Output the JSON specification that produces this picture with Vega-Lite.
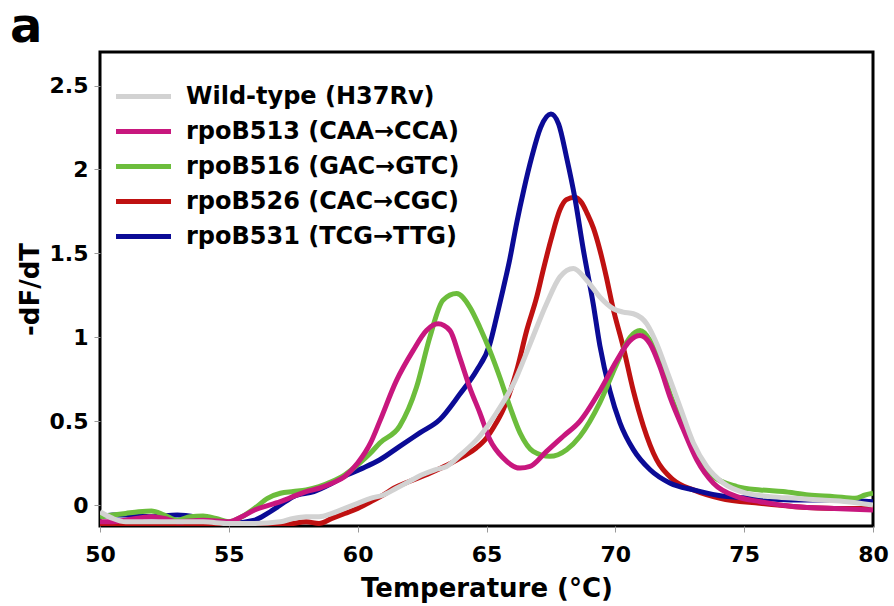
{
  "$schema": "https://vega.github.io/schema/vega-lite/v6.json",
  "width": 773,
  "height": 474,
  "autosize": {"type": "none"},
  "padding": {"left": 100, "top": 52, "right": 21, "bottom": 80},
  "background": "white",
  "title": {"text": "a", "anchor": "start", "frame": "group", "fontSize": 48, "fontWeight": "bold", "font": "DejaVu Sans", "dx": -90, "dy": 38, "offset": 0, "baseline": "alphabetic", "color": "black"},
  "config": {"view": {"stroke": "black", "strokeWidth": 3}, "font": "DejaVu Sans"},
  "datasets": {
    "curves": [
      {"s": "rpoB526 (CAC→CGC)", "t": 50, "v": -0.12}, {"s": "rpoB526 (CAC→CGC)", "t": 51, "v": -0.12}, {"s": "rpoB526 (CAC→CGC)", "t": 52, "v": -0.11}, {"s": "rpoB526 (CAC→CGC)", "t": 53, "v": -0.12}, {"s": "rpoB526 (CAC→CGC)", "t": 54, "v": -0.12}, {"s": "rpoB526 (CAC→CGC)", "t": 55, "v": -0.12}, {"s": "rpoB526 (CAC→CGC)", "t": 56, "v": -0.12}, {"s": "rpoB526 (CAC→CGC)", "t": 57, "v": -0.12}, {"s": "rpoB526 (CAC→CGC)", "t": 57.5, "v": -0.11}, {"s": "rpoB526 (CAC→CGC)", "t": 58, "v": -0.1}, {"s": "rpoB526 (CAC→CGC)", "t": 58.5, "v": -0.11}, {"s": "rpoB526 (CAC→CGC)", "t": 59, "v": -0.08}, {"s": "rpoB526 (CAC→CGC)", "t": 59.5, "v": -0.05}, {"s": "rpoB526 (CAC→CGC)", "t": 60, "v": -0.02}, {"s": "rpoB526 (CAC→CGC)", "t": 60.5, "v": 0.02}, {"s": "rpoB526 (CAC→CGC)", "t": 61, "v": 0.06}, {"s": "rpoB526 (CAC→CGC)", "t": 61.4, "v": 0.1}, {"s": "rpoB526 (CAC→CGC)", "t": 62, "v": 0.14}, {"s": "rpoB526 (CAC→CGC)", "t": 62.8, "v": 0.19}, {"s": "rpoB526 (CAC→CGC)", "t": 63.5, "v": 0.24}, {"s": "rpoB526 (CAC→CGC)", "t": 64.1, "v": 0.29}, {"s": "rpoB526 (CAC→CGC)", "t": 64.6, "v": 0.34}, {"s": "rpoB526 (CAC→CGC)", "t": 65, "v": 0.4}, {"s": "rpoB526 (CAC→CGC)", "t": 65.3, "v": 0.47}, {"s": "rpoB526 (CAC→CGC)", "t": 65.65, "v": 0.57}, {"s": "rpoB526 (CAC→CGC)", "t": 66.17, "v": 0.8}, {"s": "rpoB526 (CAC→CGC)", "t": 66.56, "v": 1.04}, {"s": "rpoB526 (CAC→CGC)", "t": 66.95, "v": 1.24}, {"s": "rpoB526 (CAC→CGC)", "t": 67.2, "v": 1.4}, {"s": "rpoB526 (CAC→CGC)", "t": 67.5, "v": 1.58}, {"s": "rpoB526 (CAC→CGC)", "t": 67.85, "v": 1.76}, {"s": "rpoB526 (CAC→CGC)", "t": 68.1, "v": 1.82}, {"s": "rpoB526 (CAC→CGC)", "t": 68.43, "v": 1.835}, {"s": "rpoB526 (CAC→CGC)", "t": 68.7, "v": 1.8}, {"s": "rpoB526 (CAC→CGC)", "t": 68.9, "v": 1.74}, {"s": "rpoB526 (CAC→CGC)", "t": 69.15, "v": 1.65}, {"s": "rpoB526 (CAC→CGC)", "t": 69.4, "v": 1.52}, {"s": "rpoB526 (CAC→CGC)", "t": 69.65, "v": 1.36}, {"s": "rpoB526 (CAC→CGC)", "t": 69.9, "v": 1.18}, {"s": "rpoB526 (CAC→CGC)", "t": 70.31, "v": 0.94}, {"s": "rpoB526 (CAC→CGC)", "t": 70.7, "v": 0.68}, {"s": "rpoB526 (CAC→CGC)", "t": 71.09, "v": 0.47}, {"s": "rpoB526 (CAC→CGC)", "t": 71.6, "v": 0.27}, {"s": "rpoB526 (CAC→CGC)", "t": 72.25, "v": 0.15}, {"s": "rpoB526 (CAC→CGC)", "t": 73.03, "v": 0.09}, {"s": "rpoB526 (CAC→CGC)", "t": 74.07, "v": 0.04}, {"s": "rpoB526 (CAC→CGC)", "t": 75.6, "v": 0.01}, {"s": "rpoB526 (CAC→CGC)", "t": 77, "v": -0.01}, {"s": "rpoB526 (CAC→CGC)", "t": 78.5, "v": -0.02}, {"s": "rpoB526 (CAC→CGC)", "t": 80, "v": -0.02},

      {"s": "rpoB531 (TCG→TTG)", "t": 50, "v": -0.07}, {"s": "rpoB531 (TCG→TTG)", "t": 50.5, "v": -0.06}, {"s": "rpoB531 (TCG→TTG)", "t": 51, "v": -0.06}, {"s": "rpoB531 (TCG→TTG)", "t": 52, "v": -0.07}, {"s": "rpoB531 (TCG→TTG)", "t": 53, "v": -0.06}, {"s": "rpoB531 (TCG→TTG)", "t": 54, "v": -0.08}, {"s": "rpoB531 (TCG→TTG)", "t": 55, "v": -0.11}, {"s": "rpoB531 (TCG→TTG)", "t": 56, "v": -0.09}, {"s": "rpoB531 (TCG→TTG)", "t": 56.5, "v": -0.05}, {"s": "rpoB531 (TCG→TTG)", "t": 57, "v": 0.0}, {"s": "rpoB531 (TCG→TTG)", "t": 57.5, "v": 0.05}, {"s": "rpoB531 (TCG→TTG)", "t": 58.3, "v": 0.08}, {"s": "rpoB531 (TCG→TTG)", "t": 59, "v": 0.13}, {"s": "rpoB531 (TCG→TTG)", "t": 59.6, "v": 0.18}, {"s": "rpoB531 (TCG→TTG)", "t": 60.2, "v": 0.22}, {"s": "rpoB531 (TCG→TTG)", "t": 60.86, "v": 0.27}, {"s": "rpoB531 (TCG→TTG)", "t": 61.63, "v": 0.35}, {"s": "rpoB531 (TCG→TTG)", "t": 62.41, "v": 0.43}, {"s": "rpoB531 (TCG→TTG)", "t": 63.19, "v": 0.51}, {"s": "rpoB531 (TCG→TTG)", "t": 63.96, "v": 0.66}, {"s": "rpoB531 (TCG→TTG)", "t": 64.61, "v": 0.8}, {"s": "rpoB531 (TCG→TTG)", "t": 65.13, "v": 0.96}, {"s": "rpoB531 (TCG→TTG)", "t": 65.39, "v": 1.12}, {"s": "rpoB531 (TCG→TTG)", "t": 65.65, "v": 1.29}, {"s": "rpoB531 (TCG→TTG)", "t": 65.91, "v": 1.47}, {"s": "rpoB531 (TCG→TTG)", "t": 66.17, "v": 1.68}, {"s": "rpoB531 (TCG→TTG)", "t": 66.45, "v": 1.88}, {"s": "rpoB531 (TCG→TTG)", "t": 66.75, "v": 2.07}, {"s": "rpoB531 (TCG→TTG)", "t": 67.1, "v": 2.25}, {"s": "rpoB531 (TCG→TTG)", "t": 67.5, "v": 2.33}, {"s": "rpoB531 (TCG→TTG)", "t": 67.8, "v": 2.27}, {"s": "rpoB531 (TCG→TTG)", "t": 68.11, "v": 2.07}, {"s": "rpoB531 (TCG→TTG)", "t": 68.43, "v": 1.83}, {"s": "rpoB531 (TCG→TTG)", "t": 68.76, "v": 1.52}, {"s": "rpoB531 (TCG→TTG)", "t": 69.14, "v": 1.2}, {"s": "rpoB531 (TCG→TTG)", "t": 69.4, "v": 0.95}, {"s": "rpoB531 (TCG→TTG)", "t": 69.79, "v": 0.68}, {"s": "rpoB531 (TCG→TTG)", "t": 70.18, "v": 0.49}, {"s": "rpoB531 (TCG→TTG)", "t": 70.7, "v": 0.33}, {"s": "rpoB531 (TCG→TTG)", "t": 71.35, "v": 0.21}, {"s": "rpoB531 (TCG→TTG)", "t": 72.13, "v": 0.13}, {"s": "rpoB531 (TCG→TTG)", "t": 73.03, "v": 0.09}, {"s": "rpoB531 (TCG→TTG)", "t": 74.33, "v": 0.05}, {"s": "rpoB531 (TCG→TTG)", "t": 75.6, "v": 0.04}, {"s": "rpoB531 (TCG→TTG)", "t": 77, "v": 0.03}, {"s": "rpoB531 (TCG→TTG)", "t": 78.5, "v": 0.03}, {"s": "rpoB531 (TCG→TTG)", "t": 80, "v": 0.02},

      {"s": "rpoB516 (GAC→GTC)", "t": 50, "v": -0.07}, {"s": "rpoB516 (GAC→GTC)", "t": 50.5, "v": -0.06}, {"s": "rpoB516 (GAC→GTC)", "t": 51, "v": -0.05}, {"s": "rpoB516 (GAC→GTC)", "t": 51.5, "v": -0.04}, {"s": "rpoB516 (GAC→GTC)", "t": 52, "v": -0.035}, {"s": "rpoB516 (GAC→GTC)", "t": 52.5, "v": -0.06}, {"s": "rpoB516 (GAC→GTC)", "t": 53, "v": -0.09}, {"s": "rpoB516 (GAC→GTC)", "t": 53.5, "v": -0.07}, {"s": "rpoB516 (GAC→GTC)", "t": 54, "v": -0.065}, {"s": "rpoB516 (GAC→GTC)", "t": 54.5, "v": -0.08}, {"s": "rpoB516 (GAC→GTC)", "t": 55, "v": -0.1}, {"s": "rpoB516 (GAC→GTC)", "t": 55.5, "v": -0.07}, {"s": "rpoB516 (GAC→GTC)", "t": 56, "v": -0.02}, {"s": "rpoB516 (GAC→GTC)", "t": 56.5, "v": 0.04}, {"s": "rpoB516 (GAC→GTC)", "t": 57, "v": 0.07}, {"s": "rpoB516 (GAC→GTC)", "t": 57.5, "v": 0.08}, {"s": "rpoB516 (GAC→GTC)", "t": 58, "v": 0.09}, {"s": "rpoB516 (GAC→GTC)", "t": 58.5, "v": 0.11}, {"s": "rpoB516 (GAC→GTC)", "t": 59, "v": 0.14}, {"s": "rpoB516 (GAC→GTC)", "t": 59.5, "v": 0.18}, {"s": "rpoB516 (GAC→GTC)", "t": 60, "v": 0.24}, {"s": "rpoB516 (GAC→GTC)", "t": 60.5, "v": 0.31}, {"s": "rpoB516 (GAC→GTC)", "t": 60.86, "v": 0.37}, {"s": "rpoB516 (GAC→GTC)", "t": 61.63, "v": 0.47}, {"s": "rpoB516 (GAC→GTC)", "t": 62.28, "v": 0.7}, {"s": "rpoB516 (GAC→GTC)", "t": 62.8, "v": 1.0}, {"s": "rpoB516 (GAC→GTC)", "t": 63.31, "v": 1.22}, {"s": "rpoB516 (GAC→GTC)", "t": 63.84, "v": 1.26}, {"s": "rpoB516 (GAC→GTC)", "t": 64.35, "v": 1.18}, {"s": "rpoB516 (GAC→GTC)", "t": 64.74, "v": 1.06}, {"s": "rpoB516 (GAC→GTC)", "t": 65.13, "v": 0.92}, {"s": "rpoB516 (GAC→GTC)", "t": 65.52, "v": 0.76}, {"s": "rpoB516 (GAC→GTC)", "t": 65.91, "v": 0.585}, {"s": "rpoB516 (GAC→GTC)", "t": 66.3, "v": 0.43}, {"s": "rpoB516 (GAC→GTC)", "t": 66.81, "v": 0.32}, {"s": "rpoB516 (GAC→GTC)", "t": 67.46, "v": 0.29}, {"s": "rpoB516 (GAC→GTC)", "t": 68.11, "v": 0.33}, {"s": "rpoB516 (GAC→GTC)", "t": 68.63, "v": 0.41}, {"s": "rpoB516 (GAC→GTC)", "t": 69.4, "v": 0.61}, {"s": "rpoB516 (GAC→GTC)", "t": 70.05, "v": 0.84}, {"s": "rpoB516 (GAC→GTC)", "t": 70.57, "v": 1.0}, {"s": "rpoB516 (GAC→GTC)", "t": 70.96, "v": 1.04}, {"s": "rpoB516 (GAC→GTC)", "t": 71.35, "v": 0.98}, {"s": "rpoB516 (GAC→GTC)", "t": 71.74, "v": 0.84}, {"s": "rpoB516 (GAC→GTC)", "t": 72.13, "v": 0.66}, {"s": "rpoB516 (GAC→GTC)", "t": 72.64, "v": 0.47}, {"s": "rpoB516 (GAC→GTC)", "t": 73.16, "v": 0.29}, {"s": "rpoB516 (GAC→GTC)", "t": 73.81, "v": 0.17}, {"s": "rpoB516 (GAC→GTC)", "t": 74.72, "v": 0.11}, {"s": "rpoB516 (GAC→GTC)", "t": 75.62, "v": 0.09}, {"s": "rpoB516 (GAC→GTC)", "t": 76.5, "v": 0.08}, {"s": "rpoB516 (GAC→GTC)", "t": 77.5, "v": 0.06}, {"s": "rpoB516 (GAC→GTC)", "t": 78.5, "v": 0.05}, {"s": "rpoB516 (GAC→GTC)", "t": 79.3, "v": 0.04}, {"s": "rpoB516 (GAC→GTC)", "t": 79.7, "v": 0.06}, {"s": "rpoB516 (GAC→GTC)", "t": 80, "v": 0.07},

      {"s": "rpoB513 (CAA→CCA)", "t": 50, "v": -0.1}, {"s": "rpoB513 (CAA→CCA)", "t": 50.5, "v": -0.1}, {"s": "rpoB513 (CAA→CCA)", "t": 51, "v": -0.09}, {"s": "rpoB513 (CAA→CCA)", "t": 52, "v": -0.07}, {"s": "rpoB513 (CAA→CCA)", "t": 52.5, "v": -0.08}, {"s": "rpoB513 (CAA→CCA)", "t": 53, "v": -0.1}, {"s": "rpoB513 (CAA→CCA)", "t": 54, "v": -0.09}, {"s": "rpoB513 (CAA→CCA)", "t": 55, "v": -0.1}, {"s": "rpoB513 (CAA→CCA)", "t": 55.5, "v": -0.07}, {"s": "rpoB513 (CAA→CCA)", "t": 56, "v": -0.03}, {"s": "rpoB513 (CAA→CCA)", "t": 57, "v": 0.02}, {"s": "rpoB513 (CAA→CCA)", "t": 58, "v": 0.08}, {"s": "rpoB513 (CAA→CCA)", "t": 58.5, "v": 0.1}, {"s": "rpoB513 (CAA→CCA)", "t": 59, "v": 0.13}, {"s": "rpoB513 (CAA→CCA)", "t": 59.5, "v": 0.17}, {"s": "rpoB513 (CAA→CCA)", "t": 60, "v": 0.25}, {"s": "rpoB513 (CAA→CCA)", "t": 60.5, "v": 0.37}, {"s": "rpoB513 (CAA→CCA)", "t": 60.86, "v": 0.5}, {"s": "rpoB513 (CAA→CCA)", "t": 61.5, "v": 0.74}, {"s": "rpoB513 (CAA→CCA)", "t": 62.15, "v": 0.92}, {"s": "rpoB513 (CAA→CCA)", "t": 62.67, "v": 1.04}, {"s": "rpoB513 (CAA→CCA)", "t": 63.12, "v": 1.08}, {"s": "rpoB513 (CAA→CCA)", "t": 63.58, "v": 1.04}, {"s": "rpoB513 (CAA→CCA)", "t": 63.96, "v": 0.88}, {"s": "rpoB513 (CAA→CCA)", "t": 64.35, "v": 0.7}, {"s": "rpoB513 (CAA→CCA)", "t": 64.74, "v": 0.55}, {"s": "rpoB513 (CAA→CCA)", "t": 65.13, "v": 0.39}, {"s": "rpoB513 (CAA→CCA)", "t": 65.65, "v": 0.28}, {"s": "rpoB513 (CAA→CCA)", "t": 66.3, "v": 0.22}, {"s": "rpoB513 (CAA→CCA)", "t": 66.69, "v": 0.23}, {"s": "rpoB513 (CAA→CCA)", "t": 67.33, "v": 0.32}, {"s": "rpoB513 (CAA→CCA)", "t": 67.98, "v": 0.41}, {"s": "rpoB513 (CAA→CCA)", "t": 68.63, "v": 0.5}, {"s": "rpoB513 (CAA→CCA)", "t": 69.4, "v": 0.68}, {"s": "rpoB513 (CAA→CCA)", "t": 70.05, "v": 0.86}, {"s": "rpoB513 (CAA→CCA)", "t": 70.57, "v": 0.98}, {"s": "rpoB513 (CAA→CCA)", "t": 70.96, "v": 1.01}, {"s": "rpoB513 (CAA→CCA)", "t": 71.35, "v": 0.96}, {"s": "rpoB513 (CAA→CCA)", "t": 71.74, "v": 0.82}, {"s": "rpoB513 (CAA→CCA)", "t": 72.13, "v": 0.64}, {"s": "rpoB513 (CAA→CCA)", "t": 72.64, "v": 0.45}, {"s": "rpoB513 (CAA→CCA)", "t": 73.16, "v": 0.27}, {"s": "rpoB513 (CAA→CCA)", "t": 73.81, "v": 0.13}, {"s": "rpoB513 (CAA→CCA)", "t": 74.72, "v": 0.05}, {"s": "rpoB513 (CAA→CCA)", "t": 75.62, "v": 0.02}, {"s": "rpoB513 (CAA→CCA)", "t": 77, "v": -0.01}, {"s": "rpoB513 (CAA→CCA)", "t": 78.5, "v": -0.02}, {"s": "rpoB513 (CAA→CCA)", "t": 80, "v": -0.03},

      {"s": "Wild-type (H37Rv)", "t": 50, "v": -0.04}, {"s": "Wild-type (H37Rv)", "t": 50.5, "v": -0.08}, {"s": "Wild-type (H37Rv)", "t": 51, "v": -0.1}, {"s": "Wild-type (H37Rv)", "t": 52, "v": -0.1}, {"s": "Wild-type (H37Rv)", "t": 53, "v": -0.1}, {"s": "Wild-type (H37Rv)", "t": 54, "v": -0.1}, {"s": "Wild-type (H37Rv)", "t": 55, "v": -0.11}, {"s": "Wild-type (H37Rv)", "t": 56, "v": -0.11}, {"s": "Wild-type (H37Rv)", "t": 57, "v": -0.1}, {"s": "Wild-type (H37Rv)", "t": 57.5, "v": -0.08}, {"s": "Wild-type (H37Rv)", "t": 58, "v": -0.07}, {"s": "Wild-type (H37Rv)", "t": 58.5, "v": -0.07}, {"s": "Wild-type (H37Rv)", "t": 59, "v": -0.05}, {"s": "Wild-type (H37Rv)", "t": 59.5, "v": -0.02}, {"s": "Wild-type (H37Rv)", "t": 60, "v": 0.01}, {"s": "Wild-type (H37Rv)", "t": 60.5, "v": 0.04}, {"s": "Wild-type (H37Rv)", "t": 61, "v": 0.06}, {"s": "Wild-type (H37Rv)", "t": 61.5, "v": 0.1}, {"s": "Wild-type (H37Rv)", "t": 62, "v": 0.14}, {"s": "Wild-type (H37Rv)", "t": 62.5, "v": 0.18}, {"s": "Wild-type (H37Rv)", "t": 63, "v": 0.21}, {"s": "Wild-type (H37Rv)", "t": 63.45, "v": 0.23}, {"s": "Wild-type (H37Rv)", "t": 64, "v": 0.3}, {"s": "Wild-type (H37Rv)", "t": 64.74, "v": 0.41}, {"s": "Wild-type (H37Rv)", "t": 65.39, "v": 0.55}, {"s": "Wild-type (H37Rv)", "t": 66.04, "v": 0.72}, {"s": "Wild-type (H37Rv)", "t": 66.69, "v": 0.96}, {"s": "Wild-type (H37Rv)", "t": 67.33, "v": 1.2}, {"s": "Wild-type (H37Rv)", "t": 67.85, "v": 1.36}, {"s": "Wild-type (H37Rv)", "t": 68.37, "v": 1.41}, {"s": "Wild-type (H37Rv)", "t": 68.89, "v": 1.34}, {"s": "Wild-type (H37Rv)", "t": 69.4, "v": 1.24}, {"s": "Wild-type (H37Rv)", "t": 69.92, "v": 1.17}, {"s": "Wild-type (H37Rv)", "t": 70.3, "v": 1.15}, {"s": "Wild-type (H37Rv)", "t": 70.7, "v": 1.14}, {"s": "Wild-type (H37Rv)", "t": 71.22, "v": 1.08}, {"s": "Wild-type (H37Rv)", "t": 71.61, "v": 0.96}, {"s": "Wild-type (H37Rv)", "t": 72.0, "v": 0.8}, {"s": "Wild-type (H37Rv)", "t": 72.51, "v": 0.585}, {"s": "Wild-type (H37Rv)", "t": 73.03, "v": 0.37}, {"s": "Wild-type (H37Rv)", "t": 73.55, "v": 0.23}, {"s": "Wild-type (H37Rv)", "t": 74.2, "v": 0.13}, {"s": "Wild-type (H37Rv)", "t": 75.1, "v": 0.07}, {"s": "Wild-type (H37Rv)", "t": 76, "v": 0.05}, {"s": "Wild-type (H37Rv)", "t": 77, "v": 0.04}, {"s": "Wild-type (H37Rv)", "t": 78, "v": 0.03}, {"s": "Wild-type (H37Rv)", "t": 79, "v": 0.02}, {"s": "Wild-type (H37Rv)", "t": 80, "v": 0.0}
    ]
  },
  "data": {"name": "curves"},
  "mark": {"type": "line", "strokeWidth": 5, "interpolate": "monotone", "clip": true},
  "encoding": {
    "x": {
      "field": "t", "type": "quantitative",
      "scale": {"domain": [50, 80], "nice": false, "zero": false},
      "axis": {"title": "Temperature (°C)", "values": [50, 55, 60, 65, 70, 75, 80], "grid": false, "domain": false, "tickSize": 6, "tickColor": "#999999", "labelFontSize": 22, "labelFontWeight": "bold", "labelColor": "black", "labelPadding": 12, "labelFlush": false, "labelFont": "DejaVu Sans", "titleFont": "DejaVu Sans", "titleFontSize": 26, "titleFontWeight": "bold", "titleColor": "black", "titlePadding": 10}
    },
    "y": {
      "field": "v", "type": "quantitative",
      "scale": {"domain": [-0.125, 2.7], "nice": false, "zero": false},
      "axis": {"title": "-dF/dT", "values": [0, 0.5, 1, 1.5, 2, 2.5], "format": "~g", "grid": false, "domain": false, "tickSize": 6, "tickColor": "#999999", "labelFontSize": 22, "labelFontWeight": "bold", "labelColor": "black", "labelPadding": 6, "labelFlush": false, "labelFont": "DejaVu Sans", "titleFont": "DejaVu Sans", "titleFontSize": 26, "titleFontWeight": "bold", "titleColor": "black", "titlePadding": 6}
    },
    "color": {
      "field": "s", "type": "nominal",
      "scale": {
        "domain": ["Wild-type (H37Rv)", "rpoB513 (CAA→CCA)", "rpoB516 (GAC→GTC)", "rpoB526 (CAC→CGC)", "rpoB531 (TCG→TTG)"],
        "range": ["#d2d2d2", "#c8177e", "#6cbd3c", "#bf1111", "#0b0b96"]
      },
      "legend": {"title": null, "orient": "none", "legendX": 30, "legendY": 31, "symbolType": "M-2.5,0H2.5", "symbolSize": 484, "symbolStrokeWidth": 5, "labelFontSize": 24, "labelFontWeight": "bold", "labelFont": "DejaVu Sans", "labelColor": "black", "labelOffset": 29, "rowPadding": 9, "labelLimit": 0, "padding": 0}
    }
  }
}
